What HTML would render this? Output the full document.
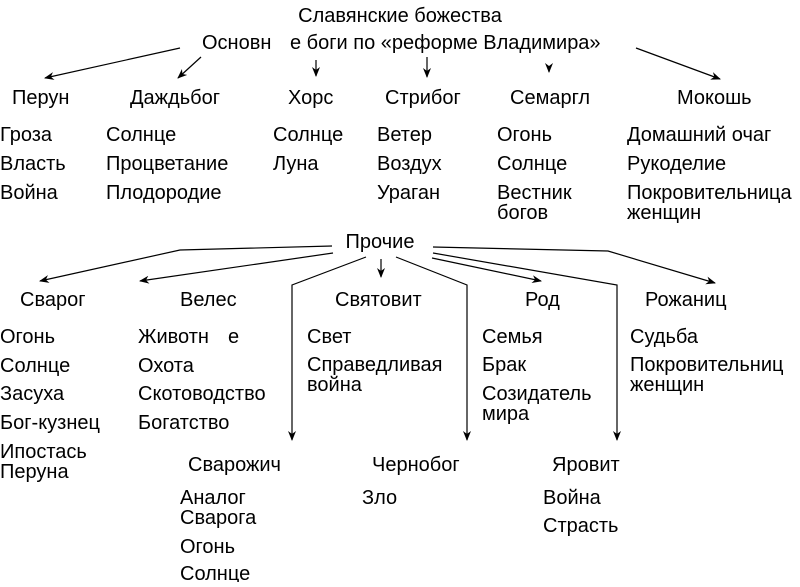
<!DOCTYPE html>
<html><head><meta charset="utf-8"><style>
html,body{margin:0;padding:0;background:#fff;}
svg text{font-family:"Liberation Sans",sans-serif;font-size:20px;fill:#000;}
</style></head><body>
<svg width="800" height="582" viewBox="0 0 800 582" xmlns="http://www.w3.org/2000/svg">
<defs><marker id="a" markerWidth="10" markerHeight="8" refX="9" refY="4" orient="auto" markerUnits="userSpaceOnUse"><path d="M0,0 L10,4 L0,8 L3,4 z" fill="#000"/></marker></defs>
<g stroke="#000" stroke-width="1.2" fill="none" marker-end="url(#a)">
<line x1="180" y1="48" x2="45" y2="78"/>
<line x1="201" y1="57" x2="178" y2="78"/>
<line x1="316" y1="60" x2="316" y2="76"/>
<line x1="427" y1="57" x2="427" y2="77"/>
<line x1="549" y1="66" x2="549" y2="72"/>
<line x1="636" y1="48" x2="720" y2="79"/>
<polyline points="332,246 180,250 40,281"/>
<line x1="333" y1="253" x2="140" y2="281"/>
<polyline points="366,257 292,285 292,440"/>
<line x1="381" y1="259" x2="381" y2="277"/>
<polyline points="396,257 467,285 467,440"/>
<line x1="432" y1="258" x2="541" y2="281"/>
<polyline points="433,253 617,285 617,440"/>
<polyline points="433,247 608,251 715,283"/>
</g>
<g>
<text x="400" y="22" text-anchor="middle">Славянские божества</text>
<text x="202" y="49">Основн</text><text x="290" y="49">е боги по «реформе Владимира»</text>
<text x="12" y="104">Перун</text><text x="130" y="104">Даждьбог</text><text x="288" y="104">Хорс</text><text x="385" y="104">Стрибог</text><text x="510" y="104">Семаргл</text><text x="677" y="104">Мокошь</text>
<text x="0" y="141">Гроза</text><text x="0" y="170">Власть</text><text x="0" y="199">Война</text>
<text x="106" y="141">Солнце</text><text x="106" y="170">Процветание</text><text x="106" y="199">Плодородие</text>
<text x="273" y="141">Солнце</text><text x="273" y="170">Луна</text>
<text x="377" y="141">Ветер</text><text x="377" y="170">Воздух</text><text x="377" y="199">Ураган</text>
<text x="497" y="141">Огонь</text><text x="497" y="170">Солнце</text><text x="497" y="199">Вестник</text><text x="497" y="219">богов</text>
<text x="627" y="141">Домашний очаг</text><text x="627" y="170">Рукоделие</text><text x="627" y="199">Покровительница</text><text x="627" y="219">женщин</text>
<text x="380" y="248" text-anchor="middle">Прочие</text>
<text x="20" y="306">Сварог</text><text x="180" y="306">Велес</text><text x="335" y="306">Святовит</text><text x="525" y="306">Род</text><text x="645" y="306">Рожаниц</text>
<text x="0" y="343">Огонь</text><text x="0" y="372">Солнце</text><text x="0" y="400">Засуха</text><text x="0" y="429">Бог-кузнец</text><text x="0" y="458">Ипостась</text><text x="0" y="478">Перуна</text>
<text x="138" y="343">Животн</text><text x="228" y="343">е</text><text x="138" y="372">Охота</text><text x="138" y="400">Скотоводство</text><text x="138" y="429">Богатство</text>
<text x="307" y="343">Свет</text><text x="307" y="371">Справедливая</text><text x="307" y="391">война</text>
<text x="482" y="343">Семья</text><text x="482" y="371">Брак</text><text x="482" y="400">Созидатель</text><text x="482" y="420">мира</text>
<text x="630" y="343">Судьба</text><text x="630" y="371">Покровительниц</text><text x="630" y="391">женщин</text>
<text x="188" y="471">Сварожич</text><text x="372" y="471">Чернобог</text><text x="552" y="471">Яровит</text>
<text x="180" y="504">Аналог</text><text x="180" y="524">Сварога</text><text x="180" y="553">Огонь</text><text x="180" y="580">Солнце</text>
<text x="362" y="504">Зло</text>
<text x="543" y="504">Война</text><text x="543" y="532">Страсть</text>
</g>
</svg>
</body></html>
